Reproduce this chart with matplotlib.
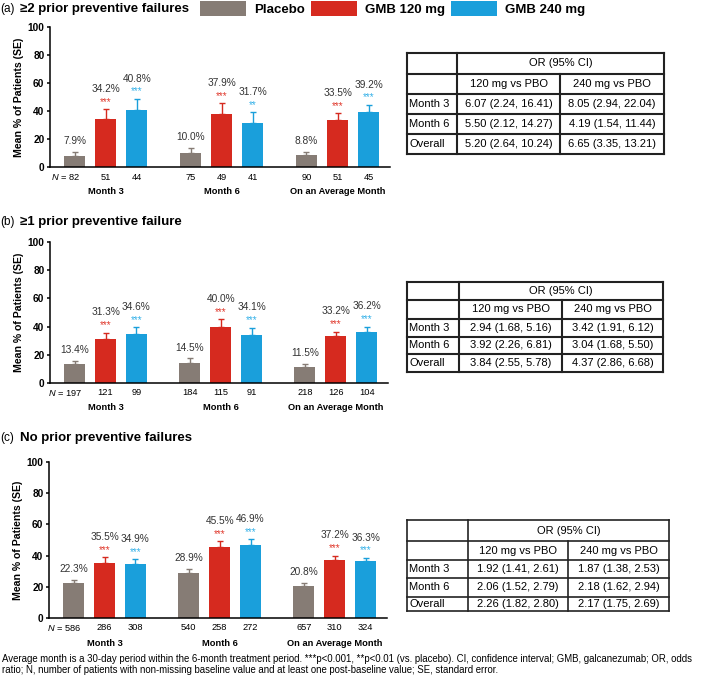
import matplotlib.pyplot as plt
from matplotlib.patches import Patch

W, H = 709, 675

plt.rcParams['font.family'] = ['Liberation Sans', 'DejaVu Sans']
plt.rcParams['mathtext.fontset'] = 'custom'
plt.rcParams['mathtext.it'] = 'Liberation Sans:italic'
plt.rcParams['mathtext.rm'] = 'Liberation Sans'

groups = ["Month 3", "Month 6", "On an Average Month"]
treatments = ["Placebo", "GMB 120 mg", "GMB 240 mg"]
colors = ["#867c75", "#d62a1f", "#1a9fdb"]
star_colors = ["#867c75", "#e0392d", "#35b1e8"]

# (a) >=2 prior preventive failures  (rows: groups, cols: treatments)
a_mean = [[7.9, 34.2, 40.8], [10.0, 37.9, 31.7], [8.8, 33.5, 39.2]]
a_se = [[3.0, 7.2, 7.8], [3.8, 7.6, 7.3], [2.1, 4.9, 5.1]]
a_stars = [["", "***", "***"], ["", "***", "**"], ["", "***", "***"]]
a_n = [[82, 51, 44], [75, 49, 41], [90, 51, 45]]

# (b) >=1 prior preventive failure
b_mean = [[13.4, 31.3, 34.6], [14.5, 40.0, 34.1], [11.5, 33.2, 36.2]]
b_se = [[2.3, 4.4, 4.9], [2.9, 5.2, 5.2], [1.9, 3.2, 3.8]]
b_stars = [["", "***", "***"], ["", "***", "***"], ["", "***", "***"]]
b_n = [[197, 121, 99], [184, 115, 91], [218, 126, 104]]

# (c) no prior preventive failures
c_mean = [[22.3, 35.5, 34.9], [28.9, 45.5, 46.9], [20.8, 37.2, 36.3]]
c_se = [[2.2, 3.3, 2.9], [2.5, 3.6, 3.7], [1.6, 2.7, 2.2]]
c_stars = [["", "***", "***"], ["", "***", "***"], ["", "***", "***"]]
c_n = [[586, 286, 308], [540, 258, 272], [657, 310, 324]]

# odds ratio tables
table_rows = ["Month 3", "Month 6", "Overall"]
table_cols = ["120 mg vs PBO", "240 mg vs PBO"]
a_or_120 = ["6.07 (2.24, 16.41)", "5.50 (2.12, 14.27)", "5.20 (2.64, 10.24)"]
a_or_240 = ["8.05 (2.94, 22.04)", "4.19 (1.54, 11.44)", "6.65 (3.35, 13.21)"]
b_or_120 = ["2.94 (1.68, 5.16)", "3.92 (2.26, 6.81)", "3.84 (2.55, 5.78)"]
b_or_240 = ["3.42 (1.91, 6.12)", "3.04 (1.68, 5.50)", "4.37 (2.86, 6.68)"]
c_or_120 = ["1.92 (1.41, 2.61)", "2.06 (1.52, 2.79)", "2.26 (1.82, 2.80)"]
c_or_240 = ["1.87 (1.38, 2.53)", "2.18 (1.62, 2.94)", "2.17 (1.75, 2.69)"]

footnote_lines = [
    "Average month is a 30-day period within the 6-month treatment period. ***p<0.001, **p<0.01 (vs. placebo). "
    "CI, confidence interval; GMB, galcanezumab; OR, odds",
    "ratio; N, number of patients with non-missing baseline value and at least one post-baseline value; "
    "SE, standard error.",
]

fig = plt.figure(figsize=(W / 100, H / 100), dpi=100)

# overlay axes in pixel coordinates for titles, tables and notes
ov = fig.add_axes([0, 0, 1, 1], zorder=5)
ov.set_xlim(0, W)
ov.set_ylim(H, 0)
ov.axis("off")
ov.patch.set_alpha(0)


def bar_panel(box, means, ses, stars, ns, letter, title, title_y):
    l, t, r, b = box
    ax = fig.add_axes([l / W, 1 - b / H, (r - l) / W, (b - t) / H])
    step = 3.73
    for g in range(3):
        for j in range(3):
            x = g * step + j
            m, e = means[g][j], ses[g][j]
            ax.bar(x, m, width=0.68, color=colors[j], zorder=2)
            ax.errorbar(x, m, yerr=[[0], [e]], fmt="none", ecolor=colors[j],
                        elinewidth=1, capsize=2.5, capthick=1, zorder=1)
            s = stars[g][j]
            if s:
                ax.annotate(s, (x, m + e), xytext=(0, 3.2), textcoords="offset points",
                            ha="center", va="baseline", fontsize=7, color=star_colors[j])
                dy = 12.5
            else:
                dy = 5.5
            ax.annotate(f"{m:.1f}%", (x, m + e), xytext=(0, dy), textcoords="offset points",
                        ha="center", va="baseline", fontsize=7.3, color="#333333")
            label = f"{ns[g][j]}"
            if g == 0 and j == 0:
                label = "$N$ = " + label
                ax.annotate(label, (x, 0), xycoords=ax.get_xaxis_transform(),
                            xytext=(len(str(ns[g][j])) * 1.9, -7.2), textcoords="offset points",
                            ha="right", va="center", fontsize=6.7)
            else:
                ax.annotate(label, (x, 0), xycoords=ax.get_xaxis_transform(),
                            xytext=(0, -7.2), textcoords="offset points",
                            ha="center", va="center", fontsize=6.7)
        ax.annotate(groups[g], (g * step + 1, 0), xycoords=ax.get_xaxis_transform(),
                    xytext=(0, -18), textcoords="offset points",
                    ha="center", va="center", fontsize=6.7, fontweight="bold")
    ax.set_xlim(-0.8, 10.15)
    ax.set_ylim(0, 100)
    ax.set_yticks(range(0, 101, 20))
    ax.set_xticks([])
    for sp in ["top", "right"]:
        ax.spines[sp].set_visible(False)
    for sp in ["left", "bottom"]:
        ax.spines[sp].set_linewidth(1.1)
    ax.tick_params(axis="y", length=2.5, width=1.1, pad=1.5, labelsize=7.3)
    for tl in ax.get_yticklabels():
        tl.set_fontweight("bold")
    ax.set_ylabel("Mean % of Patients (SE)", fontsize=7.6, fontweight="bold", labelpad=2.5)
    ov.text(0, title_y, letter, fontsize=8.5, va="center", ha="left")
    ov.text(20, title_y, title, fontsize=9.5, fontweight="bold", va="center", ha="left")
    return ax


def or_table(cols, rows, col120, col240, lw=1.5):
    x0, x1, x2, x3 = cols
    ys = rows
    # outer frame and grid
    for y in ys:
        ov.plot([x0, x3], [y, y], color="#222222", lw=lw, solid_capstyle="projecting")
    ov.plot([x0, x0], [ys[0], ys[-1]], color="#222222", lw=lw)
    ov.plot([x3, x3], [ys[0], ys[-1]], color="#222222", lw=lw)
    ov.plot([x1, x1], [ys[0], ys[-1]], color="#222222", lw=lw)
    ov.plot([x2, x2], [ys[1], ys[-1]], color="#222222", lw=lw)
    fs = 8
    ov.text((x1 + x3) / 2, (ys[0] + ys[1]) / 2, "OR (95% CI)", ha="center", va="center", fontsize=fs)
    ov.text((x1 + x2) / 2, (ys[1] + ys[2]) / 2, table_cols[0], ha="center", va="center", fontsize=fs)
    ov.text((x2 + x3) / 2, (ys[1] + ys[2]) / 2, table_cols[1], ha="center", va="center", fontsize=fs)
    for i, name in enumerate(table_rows):
        yc = (ys[i + 2] + ys[i + 3]) / 2
        ov.text(x0 + 2, yc, name, ha="left", va="center", fontsize=fs)
        ov.text((x1 + x2) / 2, yc, col120[i], ha="center", va="center", fontsize=fs)
        ov.text((x2 + x3) / 2, yc, col240[i], ha="center", va="center", fontsize=fs)


bar_panel((50, 27, 390, 167), a_mean, a_se, a_stars, a_n, "(a)", "\u22652 prior preventive failures", 9)
bar_panel((50, 242, 388, 383), b_mean, b_se, b_stars, b_n, "(b)", "\u22651 prior preventive failure", 222)
bar_panel((49, 462, 387, 618), c_mean, c_se, c_stars, c_n, "(c)", "No prior preventive failures", 438)

or_table((407, 457, 560, 664), (53, 74, 94, 114, 134, 154), a_or_120, a_or_240)
or_table((407, 459, 562, 663), (282, 300, 319, 337, 354, 372), b_or_120, b_or_240)
or_table((407, 468, 568, 669), (520, 541, 560, 578, 597, 611), c_or_120, c_or_240, lw=1.2)

handles = [Patch(facecolor=c, edgecolor="none") for c in colors]
fig.legend(handles, treatments, loc="upper left", bbox_to_anchor=(200 / W, 1 - 0.5 / H),
           ncol=3, frameon=False, borderpad=0, borderaxespad=0,
           handlelength=3.5, handleheight=1.45, handletextpad=0.6, columnspacing=0.45,
           prop={"size": 9.5, "weight": "bold"})

for k, line in enumerate(footnote_lines):
    ov.text(2, 659.5 + 10.3 * k, line, fontsize=6.9, va="center", ha="left")

fig.savefig("out.png", dpi=100)
